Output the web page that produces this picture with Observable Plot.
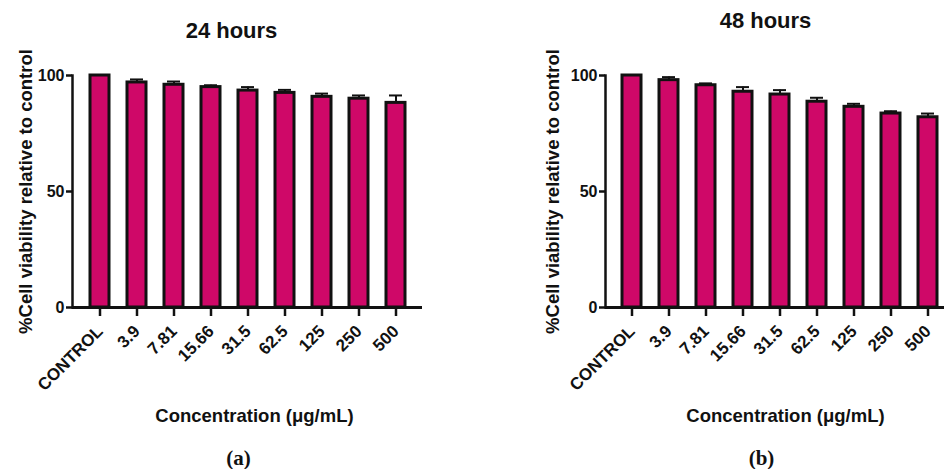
<!DOCTYPE html>
<html>
<head>
<meta charset="utf-8">
<script src="https://cdn.jsdelivr.net/npm/d3@7"></script>
<script src="https://cdn.jsdelivr.net/npm/@observablehq/plot@0.6"></script>
<style>
  html, body { margin: 0; padding: 0; background: #fff; }
  #wrap { position: relative; width: 944px; height: 469px; overflow: hidden; background: #fff; }
  #wrap > div { position: absolute; top: 0; }
  #wrap svg { display: block; }
</style>
</head>
<body>
<div id="wrap"><div id="a" style="left:0"></div><div id="b" style="left:472px"></div></div>
<script>
// ---- data ----
const categories = ["CONTROL", "3.9", "7.81", "15.66", "31.5", "62.5", "125", "250", "500"];
const viability24 = [100, 97, 96, 95, 93.5, 92.5, 90.8, 90, 88.2];
const error24     = [0, 1.3, 1.4, 0.8, 1.5, 1.3, 1.4, 1.4, 3.2];
const viability48 = [100, 98, 95.8, 93, 91.8, 88.7, 86.5, 83.6, 82];
const error48     = [0, 1.3, 0.8, 2, 1.9, 1.7, 1.3, 1, 1.6];
const yTicks = [0, 50, 100];
const titles = ["24 hours", "48 hours"];
const panelLabels = ["(a)", "(b)"];
const yLabel = "%Cell viability relative to control";
const xLabel = "Concentration (\u03bcg/mL)";

const barColor = "#cf0868";
const sans = "'Liberation Sans', Arial, Helvetica, sans-serif";

function panel(values, errors, opts) {
  const data = categories.map((c, i) => ({c, v: values[i], e: errors[i]}));
  const withErr = data.filter(d => d.e > 0);
  return Plot.plot({
    width: 472,
    height: 469,
    marginLeft: opts.marginLeft,
    marginRight: opts.marginRight,
    marginTop: 75,
    marginBottom: 162,
    style: {fontFamily: sans, color: "#111", background: "transparent", overflow: "visible"},
    x: {domain: categories, range: opts.xRange, paddingInner: 0.48, paddingOuter: 0.24, align: 0.5, label: null},
    y: {domain: [0, 100], label: null},
    marks: [
      Plot.ruleX(withErr, {x: "c", y1: "v", y2: d => d.v + d.e, stroke: "#111", strokeWidth: 2}),
      Plot.tickY(withErr, {x: "c", y: d => d.v + d.e, stroke: "#111", strokeWidth: 2, insetLeft: 3, insetRight: 3}),
      Plot.barY(data, {x: "c", y: "v", fill: barColor, stroke: "#111", strokeWidth: 3}),
      Plot.ruleY([0], {stroke: "#111", strokeWidth: 3}),
      Plot.frame({anchor: "left", stroke: "#111", strokeWidth: 2.5}),
      Plot.axisX({tickRotate: -45, tickSize: 9, tickPadding: 12, fontSize: 17, fontWeight: "bold", strokeWidth: 2.5, label: null}),
      Plot.axisY({ticks: yTicks, tickSize: 6, tickPadding: 2, fontSize: 16, fontWeight: "bold", strokeWidth: 2.5, label: null}),
      Plot.text([yLabel], {frameAnchor: "left", textAnchor: "middle", rotate: -90, dx: opts.yLabelDx, fontSize: 18.5, fontWeight: "bold", fill: "#111"}),
      Plot.text([xLabel], {frameAnchor: "bottom", dx: opts.xLabelDx, dy: 109, fontSize: 18.5, fontWeight: "bold", fill: "#111", lineAnchor: "middle"}),
      Plot.text([opts.title], {frameAnchor: "top", dx: opts.titleDx, dy: opts.titleDy, fontSize: 22, fontWeight: "bold", fill: "#111", lineAnchor: "middle"}),
      Plot.text([opts.panel], {frameAnchor: "bottom", dx: opts.panelDx, dy: 151, fontSize: 21, fontWeight: "bold", fill: "#111", fontFamily: "'Liberation Serif', 'Times New Roman', serif", lineAnchor: "middle"})
    ]
  });
}

document.getElementById("a").appendChild(panel(viability24, error24, {
  marginLeft: 72, marginRight: 50, xRange: [80.4, 414.6],
  yLabelDx: -46, xLabelDx: 7, title: titles[0], titleDx: -16, titleDy: -45,
  panel: panelLabels[0], panelDx: -9
}));
document.getElementById("b").appendChild(panel(viability48, error48, {
  marginLeft: 133, marginRight: 0, xRange: [140.4, 475.6],
  yLabelDx: -52, xLabelDx: 10.5, title: titles[1], titleDx: -9.5, titleDy: -55,
  panel: panelLabels[1], panelDx: -13.5
}));
</script>
</body>
</html>
